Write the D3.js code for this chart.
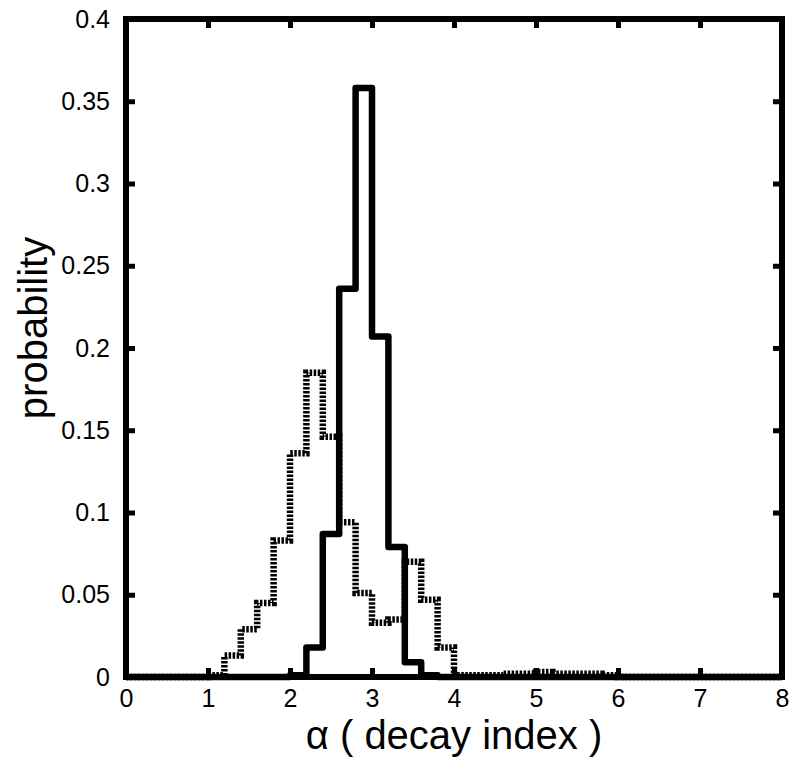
<!DOCTYPE html>
<html lang="en">
  <head>
    <meta charset="utf-8" />
    <script src="https://d3js.org/d3.v7.min.js"></script>
    <style>
      body { margin: 0; background: #fff; }
      text { font-family: "Liberation Sans", Arial, Helvetica, sans-serif; fill: #000; }
    </style>
  </head>
  <body>
    <script type="text/javascript">

      // histogram bins (left edges, width 0.2)
      var binStarts = d3.range(40).map(function(i) { return +(i * 0.2).toFixed(1); });

      // solid histogram
      var solidValues = [
        0, 0, 0, 0, 0, 0, 0, 0, 0, 0,
        0.001, 0.018, 0.087, 0.236, 0.358, 0.207, 0.079, 0.009, 0.001, 0,
        0, 0, 0, 0, 0, 0, 0, 0, 0, 0,
        0, 0, 0, 0, 0, 0, 0, 0, 0, 0
      ];

      // dotted histogram
      var dottedValues = [
        0, 0, 0, 0, 0, 0.001, 0.013, 0.029, 0.045, 0.083,
        0.136, 0.185, 0.146, 0.094, 0.051, 0.033, 0.035, 0.070, 0.047, 0.018,
        0.001, 0.001, 0.001, 0.002, 0.002, 0.003, 0.002, 0.002, 0.002, 0.001,
        0, 0, 0, 0, 0, 0, 0, 0, 0, 0
      ];

      // ticks
      var xTicks = [0, 1, 2, 3, 4, 5, 6, 7, 8];
      var xTickLabels = ["0", "1", "2", "3", "4", "5", "6", "7", "8"];
      var yTicks = [0, 0.05, 0.1, 0.15, 0.2, 0.25, 0.3, 0.35, 0.4];
      var yTickLabels = ["0", "0.05", "0.1", "0.15", "0.2", "0.25", "0.3", "0.35", "0.4"];

      // svg size and plot box
      var w = 798;
      var h = 773;
      var boxLeft = 126;
      var boxRight = 782;
      var boxTop = 19;
      var boxBottom = 677;

      var svg = d3.select("body")
                  .append("svg")
                  .attr("width", w)
                  .attr("height", h);

      var xScale = d3.scaleLinear().domain([0, 8]).range([boxLeft, boxRight]);
      var yScale = d3.scaleLinear().domain([0, 0.4]).range([boxBottom, boxTop]);

      // make step points, closing the last bin at x = 8
      function stepPoints(values) {
        var pts = binStarts.map(function(b, i) { return [b, values[i]]; });
        pts.push([8, values[values.length - 1]]);
        return pts;
      }

      var line = d3.line()
                   .x(function(d) { return xScale(d[0]); })
                   .y(function(d) { return yScale(d[1]); })
                   .curve(d3.curveStepAfter);

      // dotted histogram first, solid on top
      svg.append("path")
         .attr("d", line(stepPoints(dottedValues)))
         .attr("fill", "none")
         .attr("stroke", "#000")
         .attr("stroke-width", 6.5)
         .attr("stroke-dasharray", "2.5,1.5")
         .attr("stroke-linecap", "butt");

      svg.append("path")
         .attr("d", line(stepPoints(solidValues)))
         .attr("fill", "none")
         .attr("stroke", "#000")
         .attr("stroke-width", 6.5)
         .attr("stroke-linejoin", "round");

      // axes, ticks pointing inward on all four sides
      var tickLen = 9;

      var xAxis = d3.axisBottom(xScale)
                    .tickValues(xTicks)
                    .tickFormat(function(d, i) { return xTickLabels[i]; })
                    .tickSize(-tickLen)
                    .tickPadding(12);
      var xAxisTop = d3.axisTop(xScale)
                       .tickValues(xTicks)
                       .tickFormat("")
                       .tickSize(-tickLen);
      var yAxis = d3.axisLeft(yScale)
                    .tickValues(yTicks)
                    .tickFormat(function(d, i) { return yTickLabels[i]; })
                    .tickSize(-tickLen)
                    .tickPadding(16);
      var yAxisRight = d3.axisRight(yScale)
                         .tickValues(yTicks)
                         .tickFormat("")
                         .tickSize(-tickLen);

      var gx = svg.append("g").attr("transform", "translate(0," + boxBottom + ")").call(xAxis);
      var gxt = svg.append("g").attr("transform", "translate(0," + boxTop + ")").call(xAxisTop);
      var gy = svg.append("g").attr("transform", "translate(" + boxLeft + ",0)").call(yAxis);
      var gyr = svg.append("g").attr("transform", "translate(" + boxRight + ",0)").call(yAxisRight);

      [gx, gxt, gy, gyr].forEach(function(g) {
        g.select(".domain").remove();
        g.attr("font-size", 25)
         .attr("font-family", "'Liberation Sans', Arial, Helvetica, sans-serif");
        g.selectAll(".tick line")
         .attr("stroke", "#000")
         .attr("stroke-width", 5);
        g.selectAll(".tick text")
         .attr("fill", "#000");
      });

      // box
      svg.append("rect")
         .attr("x", boxLeft)
         .attr("y", boxTop)
         .attr("width", boxRight - boxLeft)
         .attr("height", boxBottom - boxTop)
         .attr("fill", "none")
         .attr("stroke", "#000")
         .attr("stroke-width", 6);

      // x label
      svg.append("text")
         .attr("x", (boxLeft + boxRight) / 2)
         .attr("y", 749)
         .style("text-anchor", "middle")
         .style("font-size", "40px")
         .text("\u03b1 ( decay index )");

      // y label
      svg.append("text")
         .attr("transform", "translate(47," + 328 + ") rotate(-90)")
         .style("text-anchor", "middle")
         .style("font-size", "40px")
         .text("probability");

    </script>
  </body>
</html>
